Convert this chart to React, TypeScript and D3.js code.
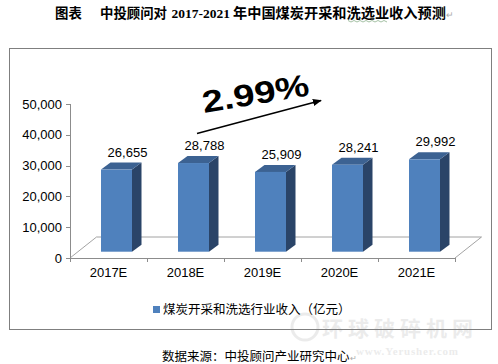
import React from "react";
import * as d3 from "d3";

const categories = ["2017E", "2018E", "2019E", "2020E", "2021E"];
const values = [26655, 28788, 25909, 28241, 29992];
const yTicks = [0, 10000, 20000, 30000, 40000, 50000];
const seriesName = "煤炭开采和洗选行业收入（亿元）";
const titleParts = ["图表", "中投顾问对", "2017-2021", "年中国煤炭开采和洗选业收入预测"];
const growthLabel = "2.99%";
const sourceText = "数据来源：中投顾问产业研究中心";

const W = 498;
const H = 364;

export default function App() {
  const y = d3.scaleLinear().domain([0, 50000]).range([258, 104]);
  const x = d3.scaleBand<string>().domain(categories).range([70, 455]);
  const fmt = d3.format(",");

  // 3D geometry
  const floorDx = 26.5;
  const floorDy = -21;
  const barFrontOffX = 8;
  const barFrontOffY = -6.3;
  const barW = 31;
  const bdx = 9.5;
  const bdy = -7;
  const y0 = y(0);

  const cjk = "'Noto Sans CJK SC', sans-serif";
  const arial = "'Liberation Sans', Arial, sans-serif";

  const wave = d3.range(0, 14).map((i) => [348 + i * 3, i % 2 === 0 ? 20.5 : 22]);

  return (
    <svg width={W} height={H} style={{ position: "absolute", left: 0, top: 0, background: "#fff" }}>
      {/* title */}
      <text y={18} fontFamily={cjk} fontWeight="bold" fontSize={13.4} fill="#000">
        <tspan x={55}>{titleParts[0]}</tspan>
        <tspan x={100}>{titleParts[1]}</tspan>
        <tspan x={171.5} fontFamily="'Liberation Serif', serif" fontSize={13.5}>{titleParts[2]}</tspan>
        <tspan x={233} fontSize={14.2}>{titleParts[3]}</tspan>
        <tspan fontFamily={arial} fontWeight="normal" fontSize={9} fill="#aaa">↵</tspan>
      </text>
      <path d={d3.line()(wave as [number, number][]) || ""} fill="none" stroke="#8db08d" strokeWidth={0.8} />

      {/* watermark */}
      <g opacity={0.28}>
        <circle cx={305} cy={327} r={13} fill="none" stroke="#bbb" strokeWidth={3} />
        <text x={322} y={336} fontFamily={cjk} fontWeight="bold" fontSize={21} fill="#bbb" letterSpacing={5}>环球破碎机网</text>
        <text x={356} y={355} fontFamily="'Liberation Serif', serif" fontWeight="bold" fontSize={11} fill="#bbb" letterSpacing={0.8}>www.Yerusher.com</text>
      </g>

      {/* frame */}
      <rect x={9.5} y={48.5} width={482} height={281} fill="none" stroke="#7f7f7f" strokeWidth={1} />

      {/* floor */}
      <path
        d={`M70,${y0} L${70 + floorDx},${y0 + floorDy} L${455 + floorDx},${y0 + floorDy} L455,${y0}`}
        fill="none"
        stroke="#8c8c8c"
        strokeWidth={0.8}
      />
      <line x1={70} x2={455} y1={y0 + 0.5} y2={y0 + 0.5} stroke="#8c8c8c" strokeWidth={1} />
      {/* y axis */}
      <line x1={70.5} x2={70.5} y1={y(50000)} y2={y0} stroke="#8c8c8c" strokeWidth={1} />
      {yTicks.map((t) => (
        <g key={t}>
          <line x1={66} x2={70} y1={Math.round(y(t)) + 0.5} y2={Math.round(y(t)) + 0.5} stroke="#8c8c8c" />
          <text x={62} y={y(t) + 4.6} textAnchor="end" fontFamily={arial} fontSize={13} fill="#000">
            {fmt(t)}
          </text>
        </g>
      ))}
      {/* x ticks */}
      {[...categories.map((c) => x(c) as number), 455].map((px, i) => (
        <line key={i} x1={Math.round(px) + 0.5} x2={Math.round(px) + 0.5} y1={y0} y2={y0 + 4} stroke="#8c8c8c" />
      ))}
      {categories.map((c) => (
        <text key={c} x={(x(c) as number) + x.bandwidth() / 2} y={277} textAnchor="middle" fontFamily={arial} fontSize={13} fill="#000">
          {c}
        </text>
      ))}

      {/* bars */}
      {categories.map((c, i) => {
        const cx = (x(c) as number) + x.bandwidth() / 2 + barFrontOffX;
        const xl = cx - barW / 2;
        const xr = cx + barW / 2;
        const yb = y0 + barFrontOffY;
        const yt = yb - (y0 - y(values[i]));
        return (
          <g key={c}>
            <path d={`M${xr},${yb} L${xr + bdx},${yb + bdy} L${xr + bdx},${yt + bdy} L${xr},${yt} Z`} fill="#2a4468" />
            <path d={`M${xl},${yt} L${xl + bdx},${yt + bdy} L${xr + bdx},${yt + bdy} L${xr},${yt} Z`} fill="#3c6292" />
            <rect x={xl} y={yt} width={barW} height={yb - yt} fill="#4f81bd" />
            <text x={cx + 11} y={yt + bdy - 6} textAnchor="middle" fontFamily={arial} fontSize={13} fill="#000">
              {fmt(values[i])}
            </text>
          </g>
        );
      })}

      {/* growth annotation */}
      <defs>
        <marker id="arr" viewBox="0 0 10 10" refX={9} refY={5} markerWidth={6} markerHeight={6} orient="auto">
          <path d="M0,1 L10,5 L0,9 Z" fill="#000" />
        </marker>
      </defs>
      <line x1={197} y1={133.5} x2={321} y2={100.5} stroke="#000" strokeWidth={1.5} markerEnd="url(#arr)" />
      <text
        transform="translate(204,113) rotate(-9.5)"
        fontFamily={arial}
        fontWeight="bold"
        fontSize={31}
        textLength={108}
        lengthAdjust="spacingAndGlyphs"
        fill="#000"
      >
        {growthLabel}
      </text>

      {/* legend */}
      <rect x={153} y={306} width={7} height={7} fill="#4f81bd" />
      <text x={163} y={314} fontFamily={cjk} fontSize={12.5} fill="#000">{seriesName}</text>

      {/* source */}
      <text x={162} y={361} fontFamily={cjk} fontSize={12.5} fill="#000">
        {sourceText}
        <tspan fontFamily={arial} fontSize={8} fill="#aaa">↵</tspan>
      </text>
    </svg>
  );
}
